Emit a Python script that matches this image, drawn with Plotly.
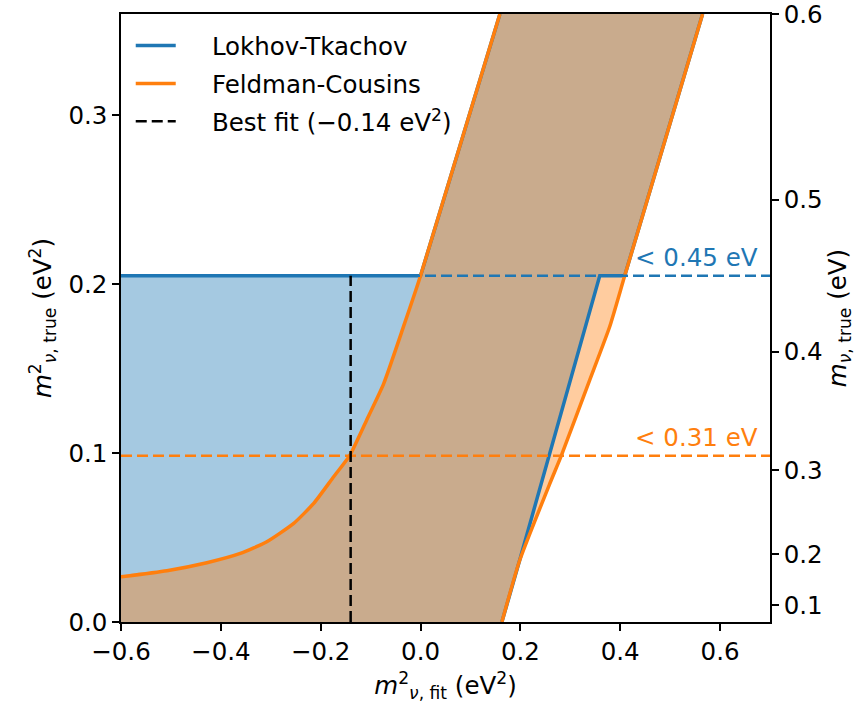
import plotly.graph_objects as go

# ---- data ----
fc_left_x = [-0.6, -0.508, -0.428, -0.361, -0.308, -0.254, -0.214, -0.174, -0.142, -0.108, -0.074, -0.034, 0.0, 0.159]
fc_left_y = [0.0268, 0.0304, 0.0351, 0.0406, 0.0475, 0.0584, 0.0702, 0.086, 0.0985, 0.1195, 0.141, 0.175, 0.205, 0.36]
fc_right_x = [0.163, 0.198, 0.259, 0.282, 0.339, 0.379, 0.409, 0.565]
fc_right_y = [0.0, 0.036, 0.082, 0.0985, 0.1434, 0.175, 0.205, 0.36]

lt_left_x = [-0.6, -0.6, 0.0, 0.159]
lt_left_y = [0.0, 0.205, 0.205, 0.36]
lt_right_x = [0.163, 0.198, 0.359, 0.409, 0.565]
lt_right_y = [0.0, 0.036, 0.205, 0.205, 0.36]

lt_limit_msq = 0.205
fc_limit_msq = 0.0985
best_fit = -0.14

x_ticks = [-0.6, -0.4, -0.2, 0.0, 0.2, 0.4, 0.6]
x_ticklabels = ["\u22120.6", "\u22120.4", "\u22120.2", "0.0", "0.2", "0.4", "0.6"]
y_ticks = [0.0, 0.1, 0.2, 0.3]
y_ticklabels = ["0.0", "0.1", "0.2", "0.3"]
mass_ticks = [0.1, 0.2, 0.3, 0.4, 0.5, 0.6]
mass_ticklabels = ["0.1", "0.2", "0.3", "0.4", "0.5", "0.6"]

x_range = [-0.6, 0.7]
y_range = [0.0, 0.36]

BLUE = "#1f77b4"
ORANGE = "#ff7f0e"
FONT = "DejaVu Sans"
FS = 24.5
PAD = "\u00a0\u00a0\u00a0\u00a0"

fig = go.Figure()

# LT filled band
lt_poly_x = lt_right_x + lt_left_x[::-1]
lt_poly_y = lt_right_y + lt_left_y[::-1]
fig.add_trace(go.Scatter(x=lt_poly_x, y=lt_poly_y, fill="toself", mode="none",
                         fillcolor="rgba(31,119,180,0.4)", showlegend=False, hoverinfo="skip"))
# FC filled band (between left and right boundaries)
fig.add_trace(go.Scatter(x=[x_range[0] - 0.02] + fc_left_x, y=[y_range[0] - 0.01] + fc_left_y,
                         mode="lines", line=dict(width=0, shape="spline", smoothing=0.5),
                         showlegend=False, hoverinfo="skip"))
fig.add_trace(go.Scatter(x=fc_right_x, y=fc_right_y, fill="tonexty",
                         mode="lines", line=dict(width=0, shape="spline", smoothing=0.5),
                         fillcolor="rgba(255,127,14,0.4)", showlegend=False, hoverinfo="skip"))

# LT boundary lines
fig.add_trace(go.Scatter(x=lt_left_x[1:] + [None] + lt_right_x,
                         y=lt_left_y[1:] + [None] + lt_right_y,
                         mode="lines", line=dict(color=BLUE, width=3.5),
                         name=PAD + "Lokhov-Tkachov", legendgroup="a"))
# FC boundary lines
fig.add_trace(go.Scatter(x=fc_left_x, y=fc_left_y,
                         mode="lines", line=dict(color=ORANGE, width=3.5, shape="spline", smoothing=0.5),
                         name=PAD + "Feldman-Cousins", legendgroup="b"))
fig.add_trace(go.Scatter(x=fc_right_x, y=fc_right_y,
                         mode="lines", line=dict(color=ORANGE, width=3.5, shape="spline", smoothing=0.5),
                         showlegend=False, legendgroup="b"))

# limit dashed lines
fig.add_trace(go.Scatter(x=x_range, y=[lt_limit_msq, lt_limit_msq], mode="lines",
                         line=dict(color=BLUE, width=2.5, dash="11px,5px"), showlegend=False))
fig.add_trace(go.Scatter(x=x_range, y=[fc_limit_msq, fc_limit_msq], mode="lines",
                         line=dict(color=ORANGE, width=2.5, dash="11px,5px"), showlegend=False))
# best fit
fig.add_trace(go.Scatter(x=[best_fit, best_fit], y=[0.0, lt_limit_msq], mode="lines",
                         line=dict(color="black", width=2.5, dash="11px,5px"),
                         name=PAD + "Best fit (\u22120.14 eV<sup>2</sup>)", legendgroup="c"))

# invisible trace for right axis
fig.add_trace(go.Scatter(x=[None], y=[None], yaxis="y2", showlegend=False, hoverinfo="skip"))

fig.add_annotation(x=0.68, y=lt_limit_msq, text="< 0.45 eV", showarrow=False,
                   xanchor="right", yanchor="bottom", yshift=2,
                   font=dict(color=BLUE, size=FS, family=FONT))
fig.add_annotation(x=0.68, y=fc_limit_msq, text="< 0.31 eV", showarrow=False,
                   xanchor="right", yanchor="bottom", yshift=2,
                   font=dict(color=ORANGE, size=FS, family=FONT))

axis_common = dict(showline=True, linecolor="black", linewidth=1.5, ticks="outside",
                   ticklen=7, tickwidth=1.5, tickcolor="black", showgrid=False,
                   zeroline=False, automargin=False, ticklabeloverflow="allow",
                   tickfont=dict(size=FS, family=FONT, color="black"))

fig.update_layout(
    width=867, height=705,
    margin=dict(l=121, r=97, t=14, b=83),
    plot_bgcolor="white", paper_bgcolor="white",
    font=dict(family=FONT, size=FS, color="black"),
    xaxis=dict(range=x_range, tickvals=x_ticks, ticktext=x_ticklabels, mirror=True,
               title=dict(text="<i>m</i><sup>2</sup><sub><i>\u03bd</i>, fit</sub> (eV<sup>2</sup>)",
                          font=dict(size=FS, family=FONT), standoff=12),
               **axis_common),
    yaxis=dict(range=y_range, tickvals=y_ticks, ticktext=y_ticklabels,
               title=dict(text="<i>m</i><sup>2</sup><sub><i>\u03bd</i>, true</sub> (eV<sup>2</sup>)",
                          font=dict(size=FS, family=FONT), standoff=10),
               **axis_common),
    yaxis2=dict(range=y_range, overlaying="y", side="right",
                tickvals=[m * m for m in mass_ticks], ticktext=mass_ticklabels,
                title=dict(text="<i>m</i><sub><i>\u03bd</i>, true</sub> (eV)",
                           font=dict(size=FS, family=FONT), standoff=0),
                **axis_common),
    legend=dict(x=0.015, y=0.985, xanchor="left", yanchor="top",
                bgcolor="rgba(255,255,255,0)", borderwidth=0,
                font=dict(size=FS, family=FONT), traceorder="grouped",
                tracegroupgap=3, itemwidth=40),
    showlegend=True,
)

fig.write_html("out.html", config={"displayModeBar": False},
               post_script="document.body.style.margin='0';")
